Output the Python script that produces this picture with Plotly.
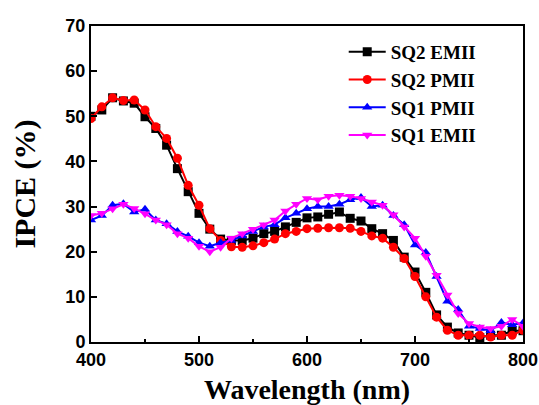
import plotly.graph_objects as go

wavelength = list(range(400, 801, 10))

sq2_emii = [50.0, 51.4, 54.1, 53.4, 52.9, 49.9, 47.3, 43.6, 38.4, 33.3,
            28.5, 25.0, 22.8, 22.5, 22.5, 23.0, 24.0, 24.5, 25.5, 26.5,
            27.5, 27.7, 28.3, 28.8, 27.4, 26.8, 25.1, 24.0, 22.5, 18.8,
            15.5, 11.0, 6.0, 3.3, 2.0, 1.5, 1.0, 1.5, 1.5, 2.5, 2.5]
sq2_pmii = [49.5, 52.1, 54.1, 53.5, 53.6, 51.4, 47.7, 45.1, 40.7, 34.7,
            30.3, 25.1, 22.5, 21.1, 21.0, 21.3, 22.0, 22.8, 24.0, 24.5,
            25.1, 25.2, 25.3, 25.3, 25.2, 24.5, 23.5, 23.0, 21.0, 18.5,
            14.5, 10.0, 5.5, 2.6, 1.5, 1.5, 1.5, 1.1, 1.5, 1.5, 2.6]
sq1_pmii = [27.0, 28.0, 30.3, 30.6, 28.8, 29.4, 27.0, 26.2, 24.5, 23.4,
            22.0, 21.2, 22.0, 22.5, 23.5, 24.5, 25.5, 26.0, 27.5, 28.5,
            29.5, 30.0, 30.0, 30.5, 31.5, 32.0, 30.0, 30.3, 28.0, 26.0,
            21.5, 19.8, 14.5, 9.0, 7.2, 3.5, 3.0, 2.5, 4.3, 3.8, 4.2]
sq1_emii = [28.0, 28.5, 29.5, 30.5, 29.6, 28.4, 27.0, 26.0, 24.0, 23.0,
            21.2, 20.0, 21.0, 23.0, 24.0, 25.0, 26.0, 27.0, 29.0, 30.5,
            31.8, 31.5, 32.3, 32.5, 32.3, 31.8, 31.0, 30.3, 28.2, 25.5,
            23.0, 19.0, 14.8, 10.4, 6.3, 4.1, 3.3, 3.0, 3.5, 5.0, 3.5]

series = [
    ("SQ2 EMII", sq2_emii, "#000000", "square"),
    ("SQ2 PMII", sq2_pmii, "#ff0000", "circle"),
    ("SQ1 PMII", sq1_pmii, "#0000ff", "triangle-up"),
    ("SQ1 EMII", sq1_emii, "#ff00ff", "triangle-down"),
]

fig = go.Figure()
for i, (name, vals, color, sym) in enumerate(series):
    fig.add_trace(go.Scatter(
        x=wavelength, y=vals, name=name, mode="lines+markers",
        legendgroup="g%d" % i,
        line=dict(color=color, width=2),
        marker=dict(symbol=sym, size=9, color=color),
    ))

tickfont = dict(family="Liberation Sans, Arial", size=18, color="black", weight="bold")
xtitlefont = dict(family="Liberation Serif, Times New Roman", size=28, color="black", weight="bold")
ytitlefont = dict(family="Liberation Serif, Times New Roman", size=30, color="black", weight="bold")

fig.update_layout(
    width=539, height=405,
    margin=dict(l=91, r=16, t=26, b=63),
    paper_bgcolor="white", plot_bgcolor="white",
    showlegend=True,
    legend=dict(
        x=0.585, y=0.978, xanchor="left", yanchor="top",
        bgcolor="rgba(0,0,0,0)",
        font=dict(family="Liberation Serif, Times New Roman", size=19, color="black", weight="bold"),
        tracegroupgap=0, itemwidth=37,
    ),
    xaxis=dict(
        range=[400, 800], tickvals=[400, 500, 600, 700, 800],
        ticks="inside", ticklen=6, tickwidth=2, tickcolor="black",
        minor=dict(tickvals=[450, 550, 650, 750], ticks="inside", ticklen=3, tickwidth=2, tickcolor="black"),
        showline=True, linecolor="black", linewidth=2, mirror=True,
        showgrid=False, zeroline=False, automargin=False,
        tickfont=tickfont,
        title=dict(text="Wavelength (nm)", font=xtitlefont, standoff=12),
    ),
    yaxis=dict(
        range=[0, 70], tickvals=[0, 10, 20, 30, 40, 50, 60, 70],
        ticks="inside", ticklen=6, tickwidth=2, tickcolor="black",
        showline=True, linecolor="black", linewidth=2, mirror=True,
        showgrid=False, zeroline=False, automargin=False,
        tickfont=tickfont,
        title=dict(text="IPCE (%)", font=ytitlefont, standoff=21),
    ),
)

fig.write_html("out.html", config={"displayModeBar": False},
               post_script="document.body.style.margin='0';")
